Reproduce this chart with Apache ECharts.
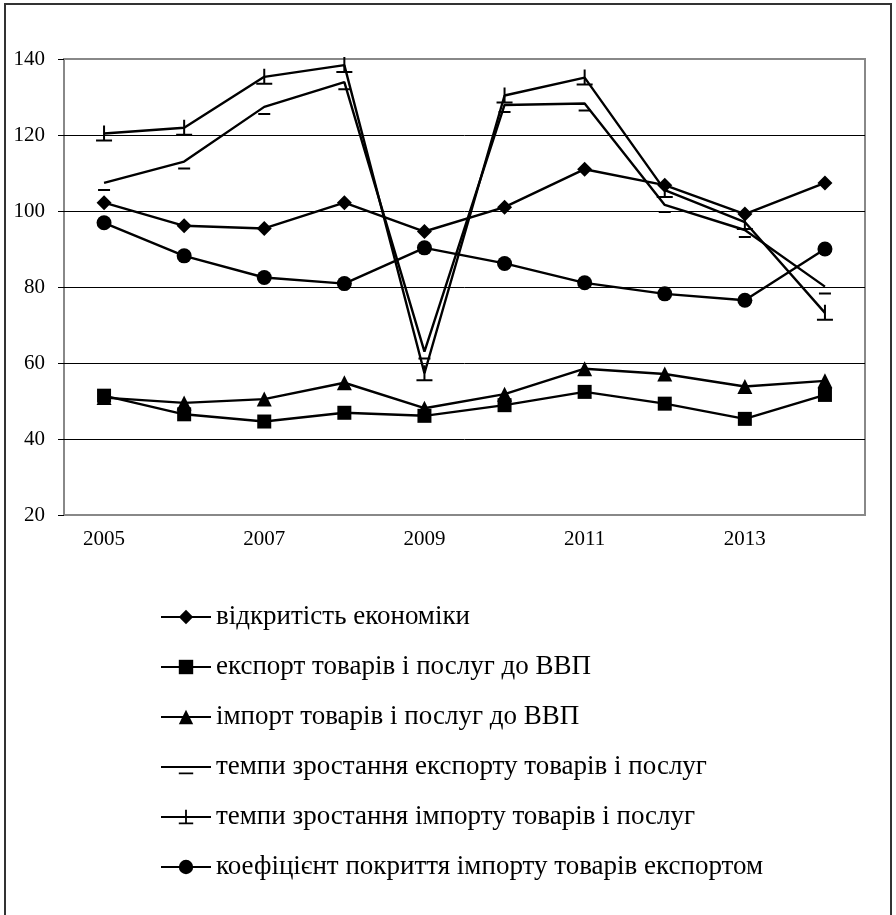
<!DOCTYPE html>
<html>
<head>
<meta charset="utf-8">
<script src="https://cdn.jsdelivr.net/npm/echarts@6/dist/echarts.min.js"></script>
<style>
html,body{margin:0;padding:0;background:#fff;}
#chart{width:896px;height:915px;}
</style>
</head>
<body>
<div id="chart"></div>
<script>
var years = ['2005','2006','2007','2008','2009','2010','2011','2012','2013','2014'];
var yTicks = { min: 20, max: 140, interval: 20 };

var seriesNames = [
  'відкритість економіки',
  'експорт товарів і послуг до ВВП',
  'імпорт товарів і послуг до ВВП',
  'темпи зростання експорту товарів і послуг',
  'темпи зростання імпорту товарів і послуг',
  'коефіцієнт покриття імпорту товарів експортом'
];

var openness     = [102.2, 96.1, 95.4, 102.2, 94.6, 101.0, 111.0, 106.8, 99.2, 107.4];
var exportGdp    = [51.4, 46.5, 44.6, 46.9, 46.1, 48.9, 52.4, 49.3, 45.3, 51.6];
var importGdp    = [50.9, 49.5, 50.5, 54.8, 48.1, 51.8, 58.5, 57.1, 53.8, 55.3];
var exportGrowth = [107.4, 113.0, 127.4, 133.9, 63.0, 127.9, 128.3, 101.6, 95.0, 80.1];
var importGrowth = [120.4, 121.9, 135.3, 138.4, 57.3, 130.4, 135.1, 105.5, 97.1, 73.2];
var coverage     = [96.9, 88.2, 82.5, 80.9, 90.3, 86.2, 81.1, 78.2, 76.5, 90.0];

var FONT = '"Liberation Serif", "Times New Roman", serif';
var dashSymbol = 'path://M6,0 L6.01,0 L6.01,0.01 Z M0,14 L12,14 L12,16 L0,16 Z';
var invTSymbol = 'path://M7,0 L9,0 L9,14 L16,14 L16,16 L0,16 L0,14 L7,14 Z';

function mk(name, data, symbol, size) {
  return {
    name: name,
    type: 'line',
    data: data,
    symbol: symbol,
    symbolSize: size,
    showSymbol: true,
    lineStyle: { color: '#000', width: 2.4 },
    itemStyle: { color: '#000' },
    z: 3
  };
}

var chart = echarts.init(document.getElementById('chart'));
chart.setOption({
  animation: false,
  backgroundColor: '#fff',
  graphic: [{
    type: 'rect',
    shape: { x: 5, y: 4, width: 886, height: 940 },
    style: { fill: 'none', stroke: '#333', lineWidth: 2 },
    z: 0
  }],
  grid: {
    left: 64, right: 31, top: 59, bottom: 400,
    show: true, borderColor: '#888', borderWidth: 2, backgroundColor: 'transparent'
  },
  legend: {
    orient: 'vertical',
    left: 160,
    top: 603,
    padding: 0,
    itemWidth: 50,
    itemHeight: 18,
    itemGap: 22,
    textStyle: { fontFamily: FONT, fontSize: 27, color: '#000', lineHeight: 28 },
    data: seriesNames
  },
  xAxis: {
    type: 'category',
    data: years,
    boundaryGap: true,
    axisLine: { show: false },
    axisTick: { show: false },
    axisLabel: { interval: 1, fontFamily: FONT, fontSize: 21, color: '#000', margin: 14 }
  },
  yAxis: {
    type: 'value',
    min: yTicks.min, max: yTicks.max, interval: yTicks.interval,
    axisLine: { show: false },
    axisTick: { show: true, length: 6, lineStyle: { color: '#000', width: 1 } },
    axisLabel: { fontFamily: FONT, fontSize: 21, color: '#000', margin: 19 },
    splitLine: { show: true, showMinLine: false, showMaxLine: false, lineStyle: { color: '#000', width: 1 } }
  },
  series: [
    mk(seriesNames[0], openness, 'diamond', 15),
    mk(seriesNames[1], exportGdp, 'rect', 14),
    mk(seriesNames[2], importGdp, 'triangle', 15),
    mk(seriesNames[3], exportGrowth, dashSymbol, [12, 16]),
    mk(seriesNames[4], importGrowth, invTSymbol, [16, 16]),
    mk(seriesNames[5], coverage, 'circle', 15)
  ]
});
</script>
</body>
</html>
